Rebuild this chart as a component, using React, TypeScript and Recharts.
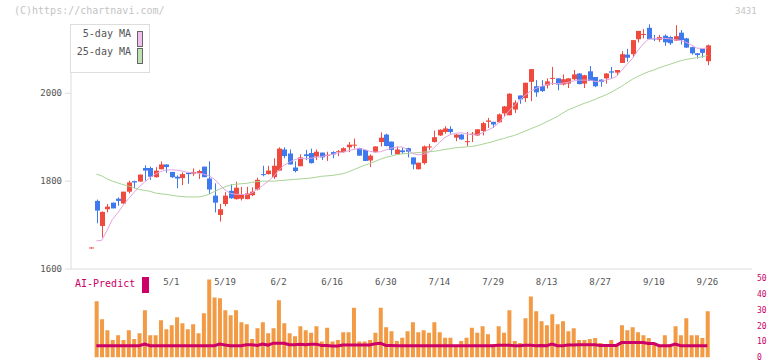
import { ComposedChart, Bar, Line, XAxis, YAxis } from "recharts";

const MONO = "'DejaVu Sans Mono', 'Liberation Mono', monospace";
const RED = "#f04a3e";
const BLUE = "#3f79ef";
const MAGENTA = "#cc0066";

// trading-day index of each labelled date
const DATE_TICKS = [15, 25, 35, 45, 55, 65, 75, 85, 95, 105, 115];
const DATE_LABELS = ["5/1", "5/19", "6/2", "6/16", "6/30", "7/14", "7/29", "8/13", "8/27", "9/10", "9/26"];
const PRICE_TICKS = [1600, 1800, 2000];
const AI_TICKS = [0, 10, 20, 30, 40, 50];
const FRAME_TICKS = [0, 1, 2, 3, 4, 5, 6, 7, 8, 9, 10, 11];

const OPEN = [
  1649, 1755, 1698, 1736, 1751, 1760, 1749, 1776, 1800, 1799,
  1830, 1830, 1809, 1827, 1838, 1821, 1810, 1807, 1819, 1817,
  1818, 1833, 1806, 1767, 1723, 1748, 1778, 1759, 1760, 1759,
  1768, 1781, 1816, 1816, 1809, 1824, 1872, 1863, 1831, 1834,
  1861, 1864, 1856, 1865, 1858, 1866, 1866, 1866, 1877, 1881,
  1875, 1871, 1847, 1866, 1889, 1906, 1890, 1861, 1870, 1875,
  1854, 1827, 1841, 1877, 1889, 1904, 1912, 1919, 1899, 1906,
  1889, 1906, 1904, 1914, 1935, 1935, 1934, 1954, 1950, 1963,
  1995, 1989, 2026, 2016, 2016, 2018, 2033, 2034, 2020, 2022,
  2032, 2045, 2022, 2050, 2037, 2031, 2034, 2050, 2047, 2069,
  2088, 2089, 2123, 2133, 2149, 2125, 2122, 2131, 2128, 2120,
  2138, 2125, 2105, 2091, 2101, 2073,
];
const HIGH = [
  1649, 1758, 1731, 1748, 1751, 1763, 1776, 1801, 1801, 1815,
  1836, 1833, 1832, 1845, 1838, 1821, 1813, 1820, 1819, 1829,
  1826, 1833, 1845, 1795, 1748, 1775, 1793, 1799, 1787, 1787,
  1786, 1808, 1835, 1835, 1852, 1877, 1877, 1872, 1845, 1861,
  1871, 1874, 1872, 1865, 1867, 1868, 1871, 1877, 1889, 1897,
  1876, 1871, 1861, 1879, 1911, 1908, 1890, 1879, 1876, 1876,
  1854, 1842, 1881, 1885, 1915, 1918, 1925, 1925, 1907, 1907,
  1912, 1912, 1918, 1935, 1944, 1935, 1954, 1971, 2000, 1984,
  1995, 2024, 2055, 2030, 2030, 2034, 2060, 2034, 2043, 2034,
  2053, 2046, 2042, 2062, 2037, 2032, 2046, 2060, 2053, 2096,
  2101, 2121, 2142, 2146, 2157, 2133, 2133, 2134, 2130, 2155,
  2144, 2126, 2106, 2092, 2101, 2111,
];
const LOW = [
  1649, 1704, 1672, 1729, 1738, 1744, 1749, 1772, 1784, 1799,
  1801, 1803, 1808, 1827, 1819, 1807, 1784, 1791, 1794, 1812,
  1805, 1809, 1771, 1729, 1708, 1743, 1760, 1758, 1756, 1759,
  1766, 1779, 1811, 1815, 1805, 1824, 1852, 1838, 1820, 1834,
  1848, 1840, 1848, 1848, 1846, 1852, 1857, 1865, 1866, 1874,
  1858, 1846, 1832, 1865, 1879, 1879, 1860, 1860, 1862, 1854,
  1827, 1827, 1838, 1871, 1888, 1903, 1908, 1908, 1891, 1894,
  1880, 1889, 1903, 1904, 1921, 1921, 1933, 1947, 1950, 1955,
  1976, 1980, 1982, 1992, 2003, 2011, 2019, 2007, 2018, 2012,
  2030, 2020, 2012, 2028, 2014, 2015, 2022, 2035, 2041, 2069,
  2072, 2082, 2116, 2125, 2123, 2119, 2117, 2108, 2110, 2119,
  2111, 2103, 2088, 2079, 2081, 2064,
];
const CLOSE = [
  1649, 1733, 1730, 1742, 1738, 1755, 1776, 1797, 1797, 1815,
  1824, 1810, 1824, 1838, 1832, 1809, 1806, 1816, 1816, 1821,
  1823, 1809, 1781, 1751, 1736, 1767, 1761, 1785, 1769, 1772,
  1776, 1803, 1814, 1824, 1835, 1874, 1857, 1838, 1823, 1854,
  1857, 1841, 1867, 1854, 1860, 1861, 1868, 1875, 1883, 1883,
  1858, 1846, 1858, 1879, 1899, 1880, 1871, 1872, 1866, 1867,
  1838, 1842, 1879, 1879, 1900, 1917, 1920, 1912, 1906, 1895,
  1891, 1908, 1918, 1932, 1938, 1929, 1952, 1970, 1999, 1979,
  1986, 2024, 2055, 2002, 2005, 2027, 2035, 2020, 2032, 2034,
  2043, 2021, 2041, 2028, 2016, 2026, 2045, 2047, 2053, 2089,
  2081, 2121, 2142, 2135, 2123, 2123, 2128, 2116, 2114, 2130,
  2121, 2104, 2091, 2087, 2092, 2109,
];
const MA5 = [
  null, 1664, 1665, 1688, 1713, 1728, 1745, 1760, 1774, 1787,
  1798, 1808, 1816, 1822, 1825, 1826, 1825, 1823, 1820, 1819,
  1818, 1816, 1812, 1805, 1792, 1780, 1772, 1770, 1770, 1769,
  1773, 1781, 1790, 1799, 1810, 1824, 1836, 1843, 1849, 1852,
  1851, 1852, 1854, 1856, 1858, 1861, 1864, 1866, 1869, 1872,
  1874, 1872, 1868, 1866, 1867, 1871, 1875, 1877, 1878, 1872,
  1863, 1860, 1861, 1865, 1876, 1888, 1899, 1906, 1909, 1910,
  1908, 1906, 1905, 1910, 1916, 1922, 1932, 1945, 1960, 1973,
  1985, 1996, 2005, 2011, 2016, 2020, 2022, 2022, 2023, 2025,
  2028, 2030, 2030, 2030, 2027, 2027, 2030, 2033, 2038, 2052,
  2066, 2079, 2097, 2112, 2123, 2125, 2125, 2125, 2124, 2122,
  2120, 2116, 2110, 2103, 2102, 2103,
];
const MA25 = [
  null, 1816, 1812, 1805, 1800, 1796, 1792, 1789, 1785, 1781,
  1779, 1777, 1773, 1771, 1770, 1768, 1766, 1765, 1764, 1764,
  1764, 1766, 1770, 1776, 1782, 1787, 1791, 1793, 1794, 1795,
  1797, 1799, 1800, 1800, 1800, 1801, 1802, 1803, 1804, 1805,
  1806, 1807, 1809, 1811, 1812, 1813, 1815, 1817, 1821, 1826,
  1831, 1836, 1840, 1845, 1850, 1854, 1857, 1860, 1862, 1863,
  1864, 1865, 1866, 1867, 1868, 1870, 1872, 1874, 1876, 1877,
  1878, 1879, 1881, 1884, 1887, 1890, 1894, 1897, 1901, 1904,
  1909, 1914, 1919, 1924, 1929, 1935, 1941, 1947, 1955, 1962,
  1967, 1972, 1977, 1981, 1986, 1991, 1996, 2002, 2009, 2016,
  2024, 2032, 2038, 2044, 2049, 2053, 2058, 2062, 2066, 2070,
  2074, 2077, 2079, 2081, 2083, 2086,
];
const VOLUME = [
  null, 113, 77, 55, 35, 45, 35, 55, 37, 49,
  95, 45, 45, 75, 57, 65, 81, 69, 57, 67,
  49, 89, 157, 121, 119, 95, 85, 95, 71, 67,
  37, 59, 71, 49, 59, 115, 69, 49, 43, 63,
  55, 50, 63, 32, 60, 32, 35, 51, 51, 100,
  32, 32, 35, 50, 100, 61, 53, 33, 40, 53,
  71, 51, 55, 50, 71, 51, 40, 40, 22, 33,
  40, 60, 50, 63, 47, 27, 63, 50, 95, 33,
  29, 79, 123, 93, 73, 65, 87, 67, 73, 53,
  59, 35, 35, 37, 39, 29, 25, 35, 25, 65,
  55, 61, 51, 45, 39, 29, 23, 45, 27, 63,
  45, 79, 45, 45, 39, 93,
];
const AI_PREDICT = [
  null, 7.4, 7.4, 7.4, 7.4, 7.4, 7.4, 7.4, 7.4, 7.4,
  8.4, 7.4, 7.4, 7.4, 7.4, 7.4, 7.4, 7.4, 7.4, 7.4,
  7.4, 7.4, 7.4, 7.4, 8.4, 7.8, 7.4, 7.4, 7.4, 8.0,
  8.0, 7.6, 8.4, 7.8, 9.0, 9.0, 9.0, 8.0, 8.0, 8.4,
  8.0, 8.4, 8.4, 7.6, 7.6, 7.2, 7.2, 7.9, 7.9, 7.9,
  7.9, 7.9, 7.9, 8.6, 9.0, 7.6, 7.6, 7.4, 7.4, 7.4,
  7.4, 7.4, 7.4, 7.4, 7.4, 7.4, 7.4, 7.4, 7.4, 7.4,
  7.4, 7.4, 7.4, 7.4, 7.4, 7.4, 7.7, 7.7, 7.7, 7.4,
  7.4, 7.7, 7.7, 7.4, 7.6, 7.4, 8.4, 7.4, 7.4, 7.8,
  7.8, 8.0, 8.0, 8.0, 8.0, 7.6, 7.6, 7.6, 7.6, 9.4,
  9.4, 9.4, 9.4, 9.4, 8.8, 8.8, 7.4, 7.4, 7.4, 8.4,
  7.4, 7.4, 7.4, 7.4, 7.4, 7.4,
];

const data = OPEN.map((open, i) => ({
  i,
  open,
  high: HIGH[i],
  low: LOW[i],
  close: CLOSE[i],
  ma5: MA5[i],
  ma25: MA25[i],
  vol: VOLUME[i],
  ai: AI_PREDICT[i],
}));

const X_DOMAIN: [number, number] = [-3.73, 123.32];

function Candle(props: any) {
  const { x, y, width, height, payload } = props;
  if (x == null || y == null || !payload) return null;
  const { open, close, high, low } = payload;
  const color = close >= open ? RED : BLUE;
  const ppu = high > low ? height / (high - low) : 0;
  const c = Math.round(x + width / 2);
  const bodyTop = y + (high - Math.max(open, close)) * ppu;
  const bodyH = Math.max(1, Math.abs(open - close) * ppu);
  return (
    <g>
      <rect x={c} y={y} width={1} height={Math.max(1, height)} fill={color} />
      <rect x={c - 2} y={bodyTop} width={5} height={bodyH} fill={color} />
    </g>
  );
}

const textStyle = { fontFamily: MONO, fontSize: 10, color: "#555", whiteSpace: "pre" as const };

export default function App() {
  return (
    <div style={{ position: "absolute", left: 0, top: 0, width: 772, height: 361, background: "#fff", overflow: "hidden" }}>
      <div style={{ position: "absolute", left: 0, top: 0 }}>
        <ComposedChart width={772} height={300} data={data} margin={{ top: 24, right: 20, bottom: 0, left: 0 }}>
          <XAxis
            xAxisId="frame"
            type="number"
            dataKey="i"
            domain={[0, 11]}
            allowDataOverflow
            ticks={FRAME_TICKS}
            interval={0}
            tick={false}
            height={1}
            mirror
            tickSize={4}
            stroke="#dcdcdc"
          />
          <XAxis
            xAxisId="d"
            type="number"
            dataKey="i"
            domain={X_DOMAIN}
            allowDataOverflow
            ticks={DATE_TICKS}
            interval={0}
            tickFormatter={(v: number) => DATE_LABELS[DATE_TICKS.indexOf(v)] ?? ""}
            axisLine={false}
            tickLine={false}
            tickSize={0}
            tickMargin={10}
            height={31}
            tick={{ fill: "#555", fontSize: 9, fontFamily: MONO }}
          />
          <YAxis
            domain={[1600, 2157.7]}
            allowDataOverflow
            ticks={PRICE_TICKS}
            interval={0}
            width={71}
            tickSize={6}
            tickMargin={3}
            stroke="#dcdcdc"
            tick={{ fill: "#555", fontSize: 9, fontFamily: MONO }}
          />
          <Line xAxisId="d" dataKey="ma25" stroke="#a8d494" strokeWidth={1} dot={false} isAnimationActive={false} />
          <Line xAxisId="d" dataKey="ma5" stroke="#e0a6e0" strokeWidth={1} dot={false} isAnimationActive={false} />
          <Bar
            xAxisId="d"
            dataKey={(d: any) => [d.low, d.high]}
            barSize={4}
            shape={(p: any) => <Candle {...p} />}
            isAnimationActive={false}
          />
        </ComposedChart>
      </div>

      <div style={{ position: "absolute", left: 0, top: 268 }}>
        <ComposedChart width={772} height={93} data={data} margin={{ top: 10, right: 0, bottom: 3.5, left: 71 }}>
          <XAxis type="number" dataKey="i" domain={X_DOMAIN} allowDataOverflow hide />
          <YAxis yAxisId="vol" domain={[0, 160]} allowDataOverflow hide />
          <YAxis
            yAxisId="ai"
            orientation="right"
            domain={[0, 50]}
            ticks={AI_TICKS}
            interval={0}
            width={20}
            axisLine={false}
            tickLine={false}
            tickSize={0}
            tickMargin={5}
            tick={{ fill: MAGENTA, fontSize: 8, fontFamily: MONO }}
          />
          <Bar yAxisId="vol" dataKey="vol" barSize={4} fill="#f29a44" isAnimationActive={false} />
          <Line yAxisId="ai" dataKey="ai" stroke={MAGENTA} strokeWidth={3} dot={false} isAnimationActive={false} />
        </ComposedChart>
      </div>

      <div style={{ ...textStyle, position: "absolute", left: 14, top: 5, color: "#c4c4c4" }}>(C)https://chartnavi.com/</div>
      <div style={{ ...textStyle, position: "absolute", left: 735, top: 6, fontSize: 9, color: "#c4c4c4" }}>3431</div>

      <div
        style={{
          position: "absolute",
          left: 70,
          top: 24,
          width: 78,
          height: 47,
          border: "1px solid #dddddd",
          background: "#fff",
        }}
      >
        <div style={{ ...textStyle, position: "absolute", right: 18, top: 3 }}>5-day MA</div>
        <div style={{ position: "absolute", left: 66, top: 6, width: 4, height: 14, border: "1px solid #666", background: "#f0bff0" }} />
        <div style={{ ...textStyle, position: "absolute", right: 18, top: 21 }}>25-day MA</div>
        <div style={{ position: "absolute", left: 66, top: 23, width: 4, height: 14, border: "1px solid #666", background: "#bfe0b0" }} />
      </div>

      <div style={{ ...textStyle, position: "absolute", left: 75, top: 278, color: MAGENTA }}>AI-Predict</div>
      <div style={{ position: "absolute", left: 142, top: 277, width: 7, height: 16, background: MAGENTA }} />
    </div>
  );
}
